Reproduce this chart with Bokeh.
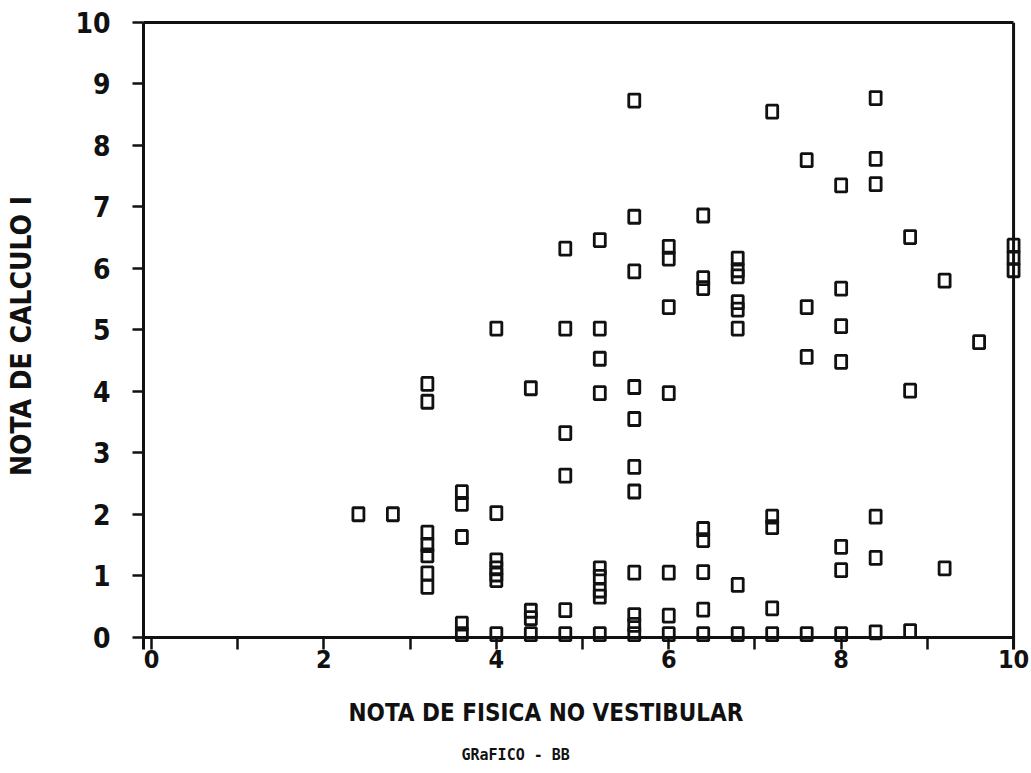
from bokeh.plotting import figure
from bokeh.models import FixedTicker, Range1d, LinearAxis, Span, Title
from bokeh.embed import file_html
from bokeh.resources import INLINE

# Physics entrance-exam grade (x) and Calculus I grade (y) for each student
nota_fisica = (
    [2.4] + [2.8]
    + [3.2] * 7 + [3.6] * 5 + [4.0] * 7 + [4.4] * 4 + [4.8] * 6
    + [5.2] * 9 + [5.6] * 11 + [6.0] * 7 + [6.4] * 8 + [6.8] * 8
    + [7.2] * 5 + [7.6] * 4 + [8.0] * 7 + [8.4] * 6 + [8.8] * 3
    + [9.2] * 2 + [9.6] + [10.0] * 3
)
nota_calculo = [
    2.0,
    2.0,
    4.12, 3.83, 1.70, 1.50, 1.33, 1.04, 0.82,
    2.36, 2.17, 1.63, 0.22, 0.05,
    5.02, 2.02, 1.25, 1.12, 1.02, 0.93, 0.05,
    4.05, 0.43, 0.31, 0.05,
    6.32, 5.02, 3.32, 2.63, 0.44, 0.05,
    6.46, 5.02, 4.53, 3.97, 1.12, 0.98, 0.76, 0.66, 0.05,
    8.73, 6.84, 5.95, 4.07, 3.55, 2.77, 2.37, 1.05, 0.36, 0.20, 0.05,
    6.35, 6.16, 5.37, 3.97, 1.05, 0.35, 0.05,
    6.86, 5.84, 5.68, 1.76, 1.58, 1.06, 0.45, 0.05,
    6.16, 5.97, 5.87, 5.45, 5.33, 5.02, 0.85, 0.05,
    8.55, 1.96, 1.79, 0.47, 0.05,
    7.76, 5.37, 4.56, 0.05,
    7.35, 5.67, 5.06, 4.48, 1.47, 1.09, 0.05,
    8.77, 7.78, 7.37, 1.96, 1.29, 0.08,
    6.51, 4.01, 0.10,
    5.80, 1.12,
    4.80,
    6.37, 6.17, 5.97,
]

x_ticks = list(range(0, 11))
y_ticks = list(range(0, 11))
x_tick_labels = {t: (str(t) if t % 2 == 0 else "") for t in x_ticks}

x_title = "NOTA DE FISICA NO VESTIBULAR"
y_title = "NOTA DE CALCULO I"
subtitle = "GRaFICO - BB"

FONT = "'DejaVu Sans Condensed', 'Liberation Sans Narrow', sans-serif"
INK = "#111111"

p = figure(
    width=1031, height=773,
    x_range=Range1d(-0.093, 10.15), y_range=Range1d(-0.2, 10),
    output_backend="svg", toolbar_location=None,
    min_border_left=143, min_border_right=5, min_border_top=22, min_border_bottom=124,
    background_fill_color="white", border_fill_color="white",
    outline_line_color=None,
)
p.grid.visible = False

# tick marks hang down from the y = 0 line; labels only on even grades
xa = p.xaxis[0]
xa.ticker = FixedTicker(ticks=x_ticks)
xa.major_label_overrides = x_tick_labels
xa.axis_line_color = None
xa.minor_tick_line_color = None
xa.major_tick_in = 12
xa.major_tick_out = 0
xa.major_tick_line_width = 2.5
xa.major_tick_line_color = INK
xa.major_label_standoff = 0
xa.major_label_text_font = FONT
xa.major_label_text_font_size = "25px"
xa.major_label_text_font_style = "bold"
xa.major_label_text_color = INK
# blank spacer label to leave room between tick labels and the title
xa.axis_label = " "
xa.axis_label_standoff = 6
xa.axis_label_text_font_size = "2px"

ya = p.yaxis[0]
ya.bounds = (-0.2, 10)
ya.ticker = FixedTicker(ticks=y_ticks)
ya.minor_tick_line_color = None
ya.major_tick_in = 0
ya.major_tick_out = 11
ya.major_tick_line_width = 2.5
ya.major_tick_line_color = INK
ya.axis_line_width = 3
ya.axis_line_color = INK
ya.major_label_standoff = 22
ya.major_label_text_font = FONT
ya.major_label_text_font_size = "28px"
ya.major_label_text_font_style = "bold"
ya.major_label_text_color = INK
ya.axis_label = y_title
ya.axis_label_standoff = 34
ya.axis_label_text_font = FONT
ya.axis_label_text_font_size = "28px"
ya.axis_label_text_font_style = "bold"
ya.axis_label_text_color = INK

p.add_layout(Title(text=x_title, align="left", offset=205, standoff=30,
                   text_font=FONT, text_font_size="24px", text_font_style="bold",
                   text_color=INK), "below")
p.add_layout(Title(text=subtitle, align="left", offset=318, standoff=4,
                   text_font="DejaVu Sans Mono", text_font_size="15px",
                   text_font_style="bold", text_color=INK), "below")

# x axis line drawn on y = 0, ending at the right edge of the box
base = LinearAxis(fixed_location=0, bounds=(-0.093, 10), ticker=FixedTicker(ticks=[]),
                  axis_line_width=3, axis_line_color=INK,
                  major_tick_line_color=None, minor_tick_line_color=None)
p.add_layout(base, "below")

# top edge of the box
top = LinearAxis(bounds=(-0.093, 10), ticker=FixedTicker(ticks=[]),
                 axis_line_width=3, axis_line_color=INK,
                 major_tick_line_color=None, minor_tick_line_color=None)
p.add_layout(top, "above")

# right edge of the box at x = 10
p.add_layout(Span(location=10, dimension="height", line_color=INK, line_width=3))

p.rect(nota_fisica, nota_calculo, width=11, height=13,
       width_units="screen", height_units="screen",
       fill_color=None, line_color=INK, line_width=2.8)

open("out.html", "w").write(file_html(p, INLINE))
